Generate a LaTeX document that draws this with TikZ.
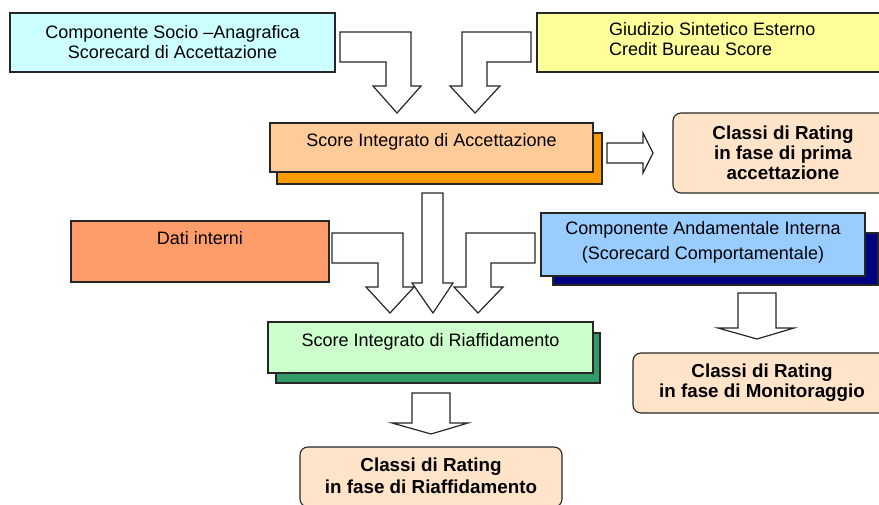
\documentclass[tikz,border=0pt]{standalone}
\usepackage{fontspec}
\setmainfont{Liberation Sans}
\definecolor{socio}{HTML}{CCFFFF}
\definecolor{giudizio}{HTML}{FFFF99}
\definecolor{acc}{HTML}{FFCC99}
\definecolor{accshadow}{HTML}{FF9900}
\definecolor{peach}{HTML}{FFE4C9}
\definecolor{dati}{HTML}{FF9D6A}
\definecolor{andam}{HTML}{99CCFF}
\definecolor{andamshadow}{HTML}{000080}
\definecolor{riaff}{HTML}{CCFFCC}
\definecolor{riaffshadow}{HTML}{339966}
\begin{document}
\begin{tikzpicture}[x=1pt,y=-1pt,
  boxnode/.style={draw=black!85, line width=1.1pt, anchor=north west, inner sep=0pt, outer sep=0pt},
  ratingbox/.style={boxnode, fill=peach, rounded corners=8pt},
  blockarrow/.style={draw=black!85, fill=white, line width=1.2pt, line join=miter},
  txt/.style={font=\fontsize{18}{20}\selectfont, align=center, inner sep=0pt},
  btxt/.style={font=\fontsize{18.8}{20}\selectfont\bfseries, align=center, inner sep=0pt}]
\useasboundingbox (0,0) rectangle (879,504);
\clip (0,0) rectangle (879,504);

% input scorecards
\node[boxnode, fill=socio, minimum width=325pt, minimum height=59pt] (socio) at (10,13) {};
\node[txt] at (socio.center) {Componente Socio –Anagrafica\\Scorecard di Accettazione};
\node[boxnode, fill=giudizio, minimum width=355pt, minimum height=59pt] (esterno) at (537,13) {};
\node[txt, align=left, anchor=west] at ([xshift=72pt, yshift=3pt]esterno.west) {Giudizio Sintetico Esterno\\Credit Bureau Score};

% acceptance score with its shadow
\node[boxnode, fill=accshadow, minimum width=325pt, minimum height=51pt] (accsh) at (277,133) {};
\node[boxnode, fill=acc, minimum width=323pt, minimum height=49pt] (acc) at (270,123) {};
\node[txt] at ([yshift=5.5pt]acc.center) {Score Integrato di Accettazione};
\node[ratingbox, minimum width=220pt, minimum height=80pt] (primaacc) at (673,113) {};
\node[btxt] at (primaacc.center) {Classi di Rating\\in fase di prima\\accettazione};

% internal data and behavioural scorecard
\node[boxnode, fill=dati, minimum width=258pt, minimum height=61pt] (dati) at (71,221) {};
\node[txt] at ([yshift=13.5pt]dati.center) {Dati interni};
\node[boxnode, fill=andamshadow, minimum width=325pt, minimum height=52pt] (andamsh) at (553,233) {};
\node[boxnode, fill=andam, minimum width=324pt, minimum height=63pt] (andam) at (541,213) {};
\node[txt] at ([yshift=2pt]andam.center) {Componente Andamentale Interna\\[5pt](Scorecard Comportamentale)};
\node[ratingbox, minimum width=258pt, minimum height=60pt] (monit) at (633,353) {};
\node[btxt] at (monit.center) {Classi di Rating\\in fase di Monitoraggio};

% re-lending score
\node[boxnode, fill=riaffshadow, minimum width=324pt, minimum height=50pt] (riaffsh) at (276,333) {};
\node[boxnode, fill=riaff, minimum width=325pt, minimum height=51pt] (riaff) at (268,322) {};
\node[txt] at ([yshift=5.5pt]riaff.center) {Score Integrato di Riaffidamento};
\node[ratingbox, minimum width=262pt, minimum height=60pt] (riaffrating) at (300,447) {};
\node[btxt] at ([yshift=1pt]riaffrating.center) {Classi di Rating\\[2pt]in fase di Riaffidamento};

% block arrows
\draw[blockarrow] (340,32) -- (411,32) -- (411,86) -- (421,86) -- (397,113) -- (373,86) -- (386,86) -- (386,62) -- (340,62) -- cycle;
\draw[blockarrow] (531,32) -- (462,32) -- (462,86) -- (450,86) -- (475,113) -- (500,86) -- (487,86) -- (487,62) -- (531,62) -- cycle;
\draw[blockarrow] (607,143) -- (643,143) -- (643,133) -- (653,153) -- (643,173) -- (643,163) -- (607,163) -- cycle;
\draw[blockarrow] (332,233) -- (403,233) -- (403,287) -- (414,287) -- (390,313) -- (366,287) -- (378,287) -- (378,263) -- (332,263) -- cycle;
\draw[blockarrow] (535,233) -- (466,233) -- (466,287) -- (454,287) -- (478,313) -- (503,287) -- (491,287) -- (491,263) -- (535,263) -- cycle;
\draw[blockarrow] (422,193) -- (443,193) -- (443,283) -- (453,283) -- (433,313) -- (412,283) -- (422,283) -- cycle;
\draw[blockarrow] (738,293) -- (776,293) -- (776,328) -- (794,328) -- (757,339) -- (718,328) -- (738,328) -- cycle;
\draw[blockarrow] (412,393) -- (450,393) -- (450,423) -- (468,423) -- (431,434) -- (392,423) -- (412,423) -- cycle;
\end{tikzpicture}
\end{document}
